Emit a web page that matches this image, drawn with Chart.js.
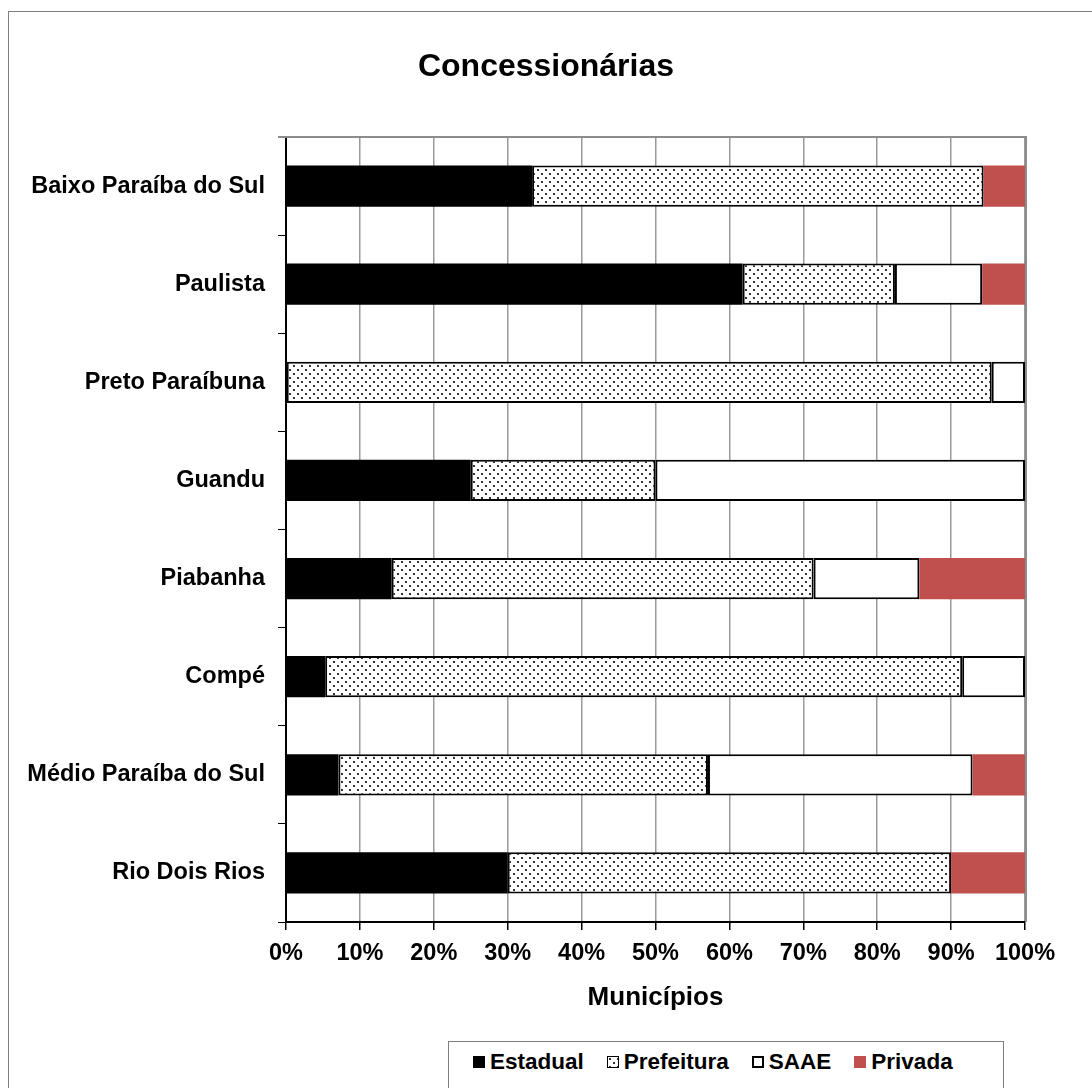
<!DOCTYPE html>
<html>
<head>
<meta charset="utf-8">
<script src="https://cdn.jsdelivr.net/npm/chart.js@4.4.1/dist/chart.umd.min.js"></script>
<style>
  html, body { margin: 0; padding: 0; background: #fff; overflow: hidden; }
  #wrap { position: relative; width: 1092px; height: 1088px; }
  #frame { position: absolute; left: 8px; top: 11px; width: 1200px; height: 1200px;
           border: 1px solid #7f7f7f; box-sizing: border-box; }
  #chart { position: absolute; left: 0; top: 0; }
  #legend { position: absolute; left: 448px; top: 1041px; width: 556px; height: 80px;
            border: 1px solid #7f7f7f; box-sizing: border-box; background: #fff;
            display: flex; align-items: flex-start; padding: 8px 0 0 24px;
            font: bold 22.5px "Liberation Sans", Arial, sans-serif; color: #000; }
  .item { display: flex; align-items: center; height: 24px; line-height: 24px; margin-right: 23px; white-space: nowrap; }
  .sw { width: 12px; height: 12px; margin-right: 5px; box-sizing: border-box; flex: none; }
</style>
</head>
<body>
<div id="wrap">
  <div id="frame"></div>
  <canvas id="chart" width="1092" height="1088"></canvas>
  <div id="legend"></div>
</div>
<script>
// Basins (top to bottom) and the share of municipalities served by each kind of utility, in %
const categories = ['Baixo Paraíba do Sul', 'Paulista', 'Preto Paraíbuna', 'Guandu',
                    'Piabanha', 'Compé', 'Médio Paraíba do Sul', 'Rio Dois Rios'];
const estadual   = [33.3, 61.8, null, 25.0, 14.3,  5.3,  7.1, 30.0];
const prefeitura = [61.1, 20.6, 95.5, 25.0, 57.1, 86.2, 50.0, 60.0];
const saae       = [null, 11.8,  4.5, 50.0, 14.3,  8.5, 35.8, null];
const privada    = [ 5.6,  5.8, null, null, 14.3, null,  7.1, 10.0];
const seriesNames = ['Estadual', 'Prefeitura', 'SAAE', 'Privada'];
const xTickLabels = ['0%', '10%', '20%', '30%', '40%', '50%', '60%', '70%', '80%', '90%', '100%'];

const FONT = '"Liberation Sans", Arial, sans-serif';

// Small dotted fill used for the "Prefeitura" segments
function dotPattern() {
  const c = document.createElement('canvas');
  c.width = 8; c.height = 8;
  const g = c.getContext('2d');
  g.fillStyle = '#fff';
  g.fillRect(0, 0, 8, 8);
  g.fillStyle = '#333';
  g.fillRect(1, 1, 2, 2);
  g.fillRect(5, 5, 2, 2);
  return c;
}
const patCanvas = dotPattern();
const ctx = document.getElementById('chart').getContext('2d');
const dots = ctx.createPattern(patCanvas, 'repeat');

const fills = ['#000000', dots, '#ffffff', '#C0504D'];
const borders = [0, 2, 2, 0];
const seriesData = [estadual, prefeitura, saae, privada];

// Gray frame along the top and right of the plotting area
const plotFrame = {
  id: 'plotFrame',
  beforeDatasetsDraw(chart) {
    const { ctx, chartArea: a } = chart;
    ctx.save();
    ctx.strokeStyle = '#8c8c8c';
    ctx.lineWidth = 2;
    ctx.beginPath();
    ctx.moveTo(a.left - 8, a.top);
    ctx.lineTo(a.right + 1, a.top);
    ctx.lineTo(a.right + 1, a.bottom);
    ctx.stroke();
    ctx.restore();
  }
};

new Chart(ctx, {
  type: 'bar',
  data: {
    labels: categories,
    datasets: seriesNames.map((name, i) => ({
      label: name,
      data: seriesData[i],
      backgroundColor: fills[i],
      borderColor: '#000',
      borderWidth: borders[i],
      borderSkipped: false
    }))
  },
  options: {
    indexAxis: 'y',
    responsive: false,
    animation: false,
    events: [],
    layout: { padding: { left: 0, right: 0, top: 0, bottom: 66 } },
    datasets: { bar: { barPercentage: 0.42, categoryPercentage: 1 } },
    plugins: {
      legend: { display: false },
      tooltip: { enabled: false },
      title: {
        display: true,
        text: 'Concessionárias',
        color: '#000',
        font: { family: FONT, size: 32, weight: 'bold' },
        padding: { top: 48, bottom: 50.6 }
      }
    },
    scales: {
      x: {
        stacked: true,
        min: 0, max: 100,
        ticks: {
          stepSize: 10,
          autoSkip: false,
          maxRotation: 0,
          padding: 9,
          color: '#000',
          font: { family: FONT, size: 23.5, weight: 'bold' },
          callback: (v) => xTickLabels[Math.round(v / 10)]
        },
        grid: { color: '#9a9a9a', lineWidth: 1.5, tickColor: '#000', tickLength: 8, tickWidth: 1.5 },
        border: { color: '#000', width: 2 },
        title: {
          display: true,
          text: 'Municípios',
          color: '#000',
          font: { family: FONT, size: 26, weight: 'bold' },
          padding: { top: 0, bottom: 9 }
        },
        afterFit(s) { s.height = 100; }
      },
      y: {
        stacked: true,
        ticks: {
          padding: 13,
          color: '#000',
          font: { family: FONT, size: 23.5, weight: 'bold' }
        },
        grid: { drawOnChartArea: false, tickLength: 8, color: '#000', lineWidth: 1 },
        border: { color: '#000', width: 2 },
        afterFit(s) { s.width = 286; }
      },
      // empty right-hand margin axis (keeps the plot clear of the right edge)
      yRight: {
        type: 'category',
        position: 'right',
        labels: categories,
        ticks: { display: false },
        grid: { display: false },
        border: { display: false },
        afterFit(s) { s.width = 67; }
      }
    }
  },
  plugins: [plotFrame]
});

// Legend entries built from the same series names and fills
const legend = document.getElementById('legend');
seriesNames.forEach((name, i) => {
  const item = document.createElement('div');
  item.className = 'item';
  const sw = document.createElement('span');
  sw.className = 'sw';
  if (i === 1) {
    sw.style.backgroundImage = 'url(' + patCanvas.toDataURL() + ')';
    sw.style.border = '1px solid #000';
  } else if (i === 2) {
    sw.style.background = '#fff';
    sw.style.border = '2px solid #000';
  } else {
    sw.style.background = fills[i];
  }
  const tx = document.createElement('span');
  tx.textContent = name;
  item.appendChild(sw);
  item.appendChild(tx);
  legend.appendChild(item);
});
</script>
</body>
</html>
